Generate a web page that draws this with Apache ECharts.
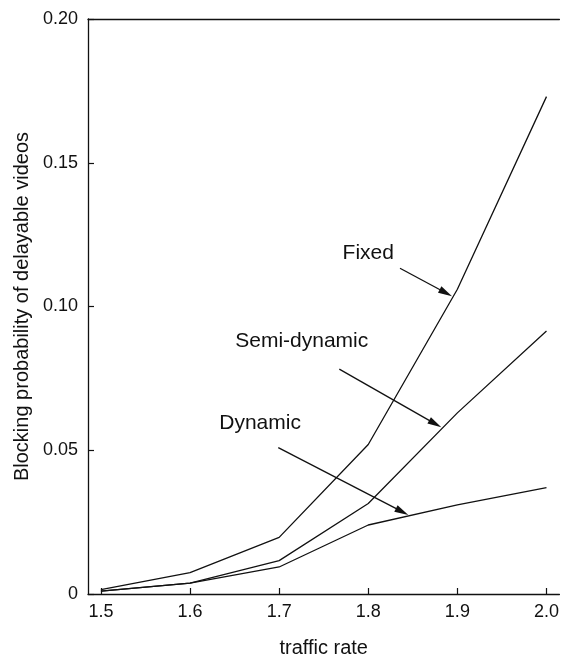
<!DOCTYPE html>
<html>
<head>
<meta charset="utf-8">
<script src="https://cdn.jsdelivr.net/npm/echarts@6/dist/echarts.min.js"></script>
<style>
html,body{margin:0;padding:0;background:#fff;}
#chart{width:562px;height:663px;}
</style>
</head>
<body>
<div id="chart"></div>
<script>
// ---- data ----
const xValues = [1.5, 1.6, 1.7, 1.8, 1.9, 2.0];
const fixedValues = [0.0015, 0.0074, 0.0197, 0.052, 0.106, 0.173];
const semiValues = [0.001, 0.0038, 0.0116, 0.0315, 0.063, 0.0915];
const dynamicValues = [0.001, 0.0038, 0.0094, 0.024, 0.031, 0.037];
const xTickValues = [1.5, 1.6, 1.7, 1.8, 1.9, 2.0];
const yTickValues = [0, 0.05, 0.10, 0.15, 0.20];
const seriesNames = ['Fixed', 'Semi-dynamic', 'Dynamic'];
// annotation anchors in data space: label [x,y] (left, baseline), arrow start, arrow tip
const labelPos = [[1.7712, 0.1150], [1.6507, 0.0843], [1.6328, 0.0556]];
const arrowStart = [[1.8356, 0.1133], [1.7675, 0.0782], [1.699, 0.0509]];
const arrowTip = [[1.894, 0.1036], [1.882, 0.058], [1.845, 0.0275]];

const FONT = '"Liberation Sans", Arial, Helvetica, sans-serif';
const INK = '#111';

const chart = echarts.init(document.getElementById('chart'), null, {renderer: 'canvas'});

function pairs(ys) { return xValues.map((x, i) => [x, ys[i]]); }

const lineStyle = {color: INK, width: 1.3};
const option = {
  animation: false,
  backgroundColor: '#fff',
  grid: {left: 88, top: 19, right: 0, bottom: 65, containLabel: false},
  xAxis: [{
    type: 'value', min: 1.4855, max: 2.0145,
    name: 'traffic rate', nameLocation: 'middle', nameGap: 44,
    nameTextStyle: {fontFamily: FONT, fontSize: 20, color: INK},
    axisLine: {show: true, lineStyle: {color: INK, width: 1.3}},
    axisTick: {show: true, inside: true, length: 6, customValues: xTickValues, lineStyle: {color: INK, width: 1.2}},
    axisLabel: {show: true, customValues: xTickValues, margin: 9, fontFamily: FONT, fontSize: 18, color: INK,
      formatter: v => v.toFixed(1)},
    splitLine: {show: false}
  }, {
    type: 'value', min: 1.4855, max: 2.0145, position: 'top',
    axisLine: {show: true, onZero: false, lineStyle: {color: INK, width: 1.3}},
    axisTick: {show: false}, axisLabel: {show: false}, splitLine: {show: false}
  }],
  yAxis: {
    type: 'value', min: 0, max: 0.2, interval: 0.05,
    name: 'Blocking probability of delayable videos', nameLocation: 'middle', nameGap: 56, nameRotate: 90,
    nameTextStyle: {fontFamily: FONT, fontSize: 20, color: INK},
    axisLine: {show: true, lineStyle: {color: INK, width: 1.3}},
    axisTick: {show: true, inside: true, length: 6, lineStyle: {color: INK, width: 1.2}},
    axisLabel: {show: true, margin: 10, fontFamily: FONT, fontSize: 18, color: INK,
      formatter: v => (v === 0 ? '0' : v.toFixed(2))},
    splitLine: {show: false}
  },
  series: [
    {name: seriesNames[0], type: 'line', data: pairs(fixedValues), showSymbol: false, symbol: 'none', lineStyle},
    {name: seriesNames[1], type: 'line', data: pairs(semiValues), showSymbol: false, symbol: 'none', lineStyle},
    {name: seriesNames[2], type: 'line', data: pairs(dynamicValues), showSymbol: false, symbol: 'none', lineStyle}
  ]
};
chart.setOption(option);

// annotations (labels + arrows) placed through the chart's own coordinate conversion
const graphics = [];
const HEAD_LEN = 14, HEAD_HALF = 3.6;
for (let i = 0; i < seriesNames.length; i++) {
  const lp = chart.convertToPixel({gridIndex: 0}, labelPos[i]);
  graphics.push({
    type: 'text', x: lp[0], y: lp[1],
    style: {text: seriesNames[i], fontFamily: FONT, fontSize: 21, fill: INK, align: 'left', verticalAlign: 'bottom'},
    z: 10
  });
  const s = chart.convertToPixel({gridIndex: 0}, arrowStart[i]);
  const t = chart.convertToPixel({gridIndex: 0}, arrowTip[i]);
  const dx = t[0] - s[0], dy = t[1] - s[1];
  const len = Math.hypot(dx, dy);
  const ux = dx / len, uy = dy / len;
  const bx = t[0] - ux * HEAD_LEN, by = t[1] - uy * HEAD_LEN;
  graphics.push({
    type: 'line', shape: {x1: s[0], y1: s[1], x2: bx + ux * 2, y2: by + uy * 2},
    style: {stroke: INK, lineWidth: 1.3}, z: 10
  });
  graphics.push({
    type: 'polygon',
    shape: {points: [[t[0], t[1]], [bx - uy * HEAD_HALF, by + ux * HEAD_HALF], [bx + uy * HEAD_HALF, by - ux * HEAD_HALF]]},
    style: {fill: INK}, z: 10
  });
}
chart.setOption({graphic: graphics});
</script>
</body>
</html>
